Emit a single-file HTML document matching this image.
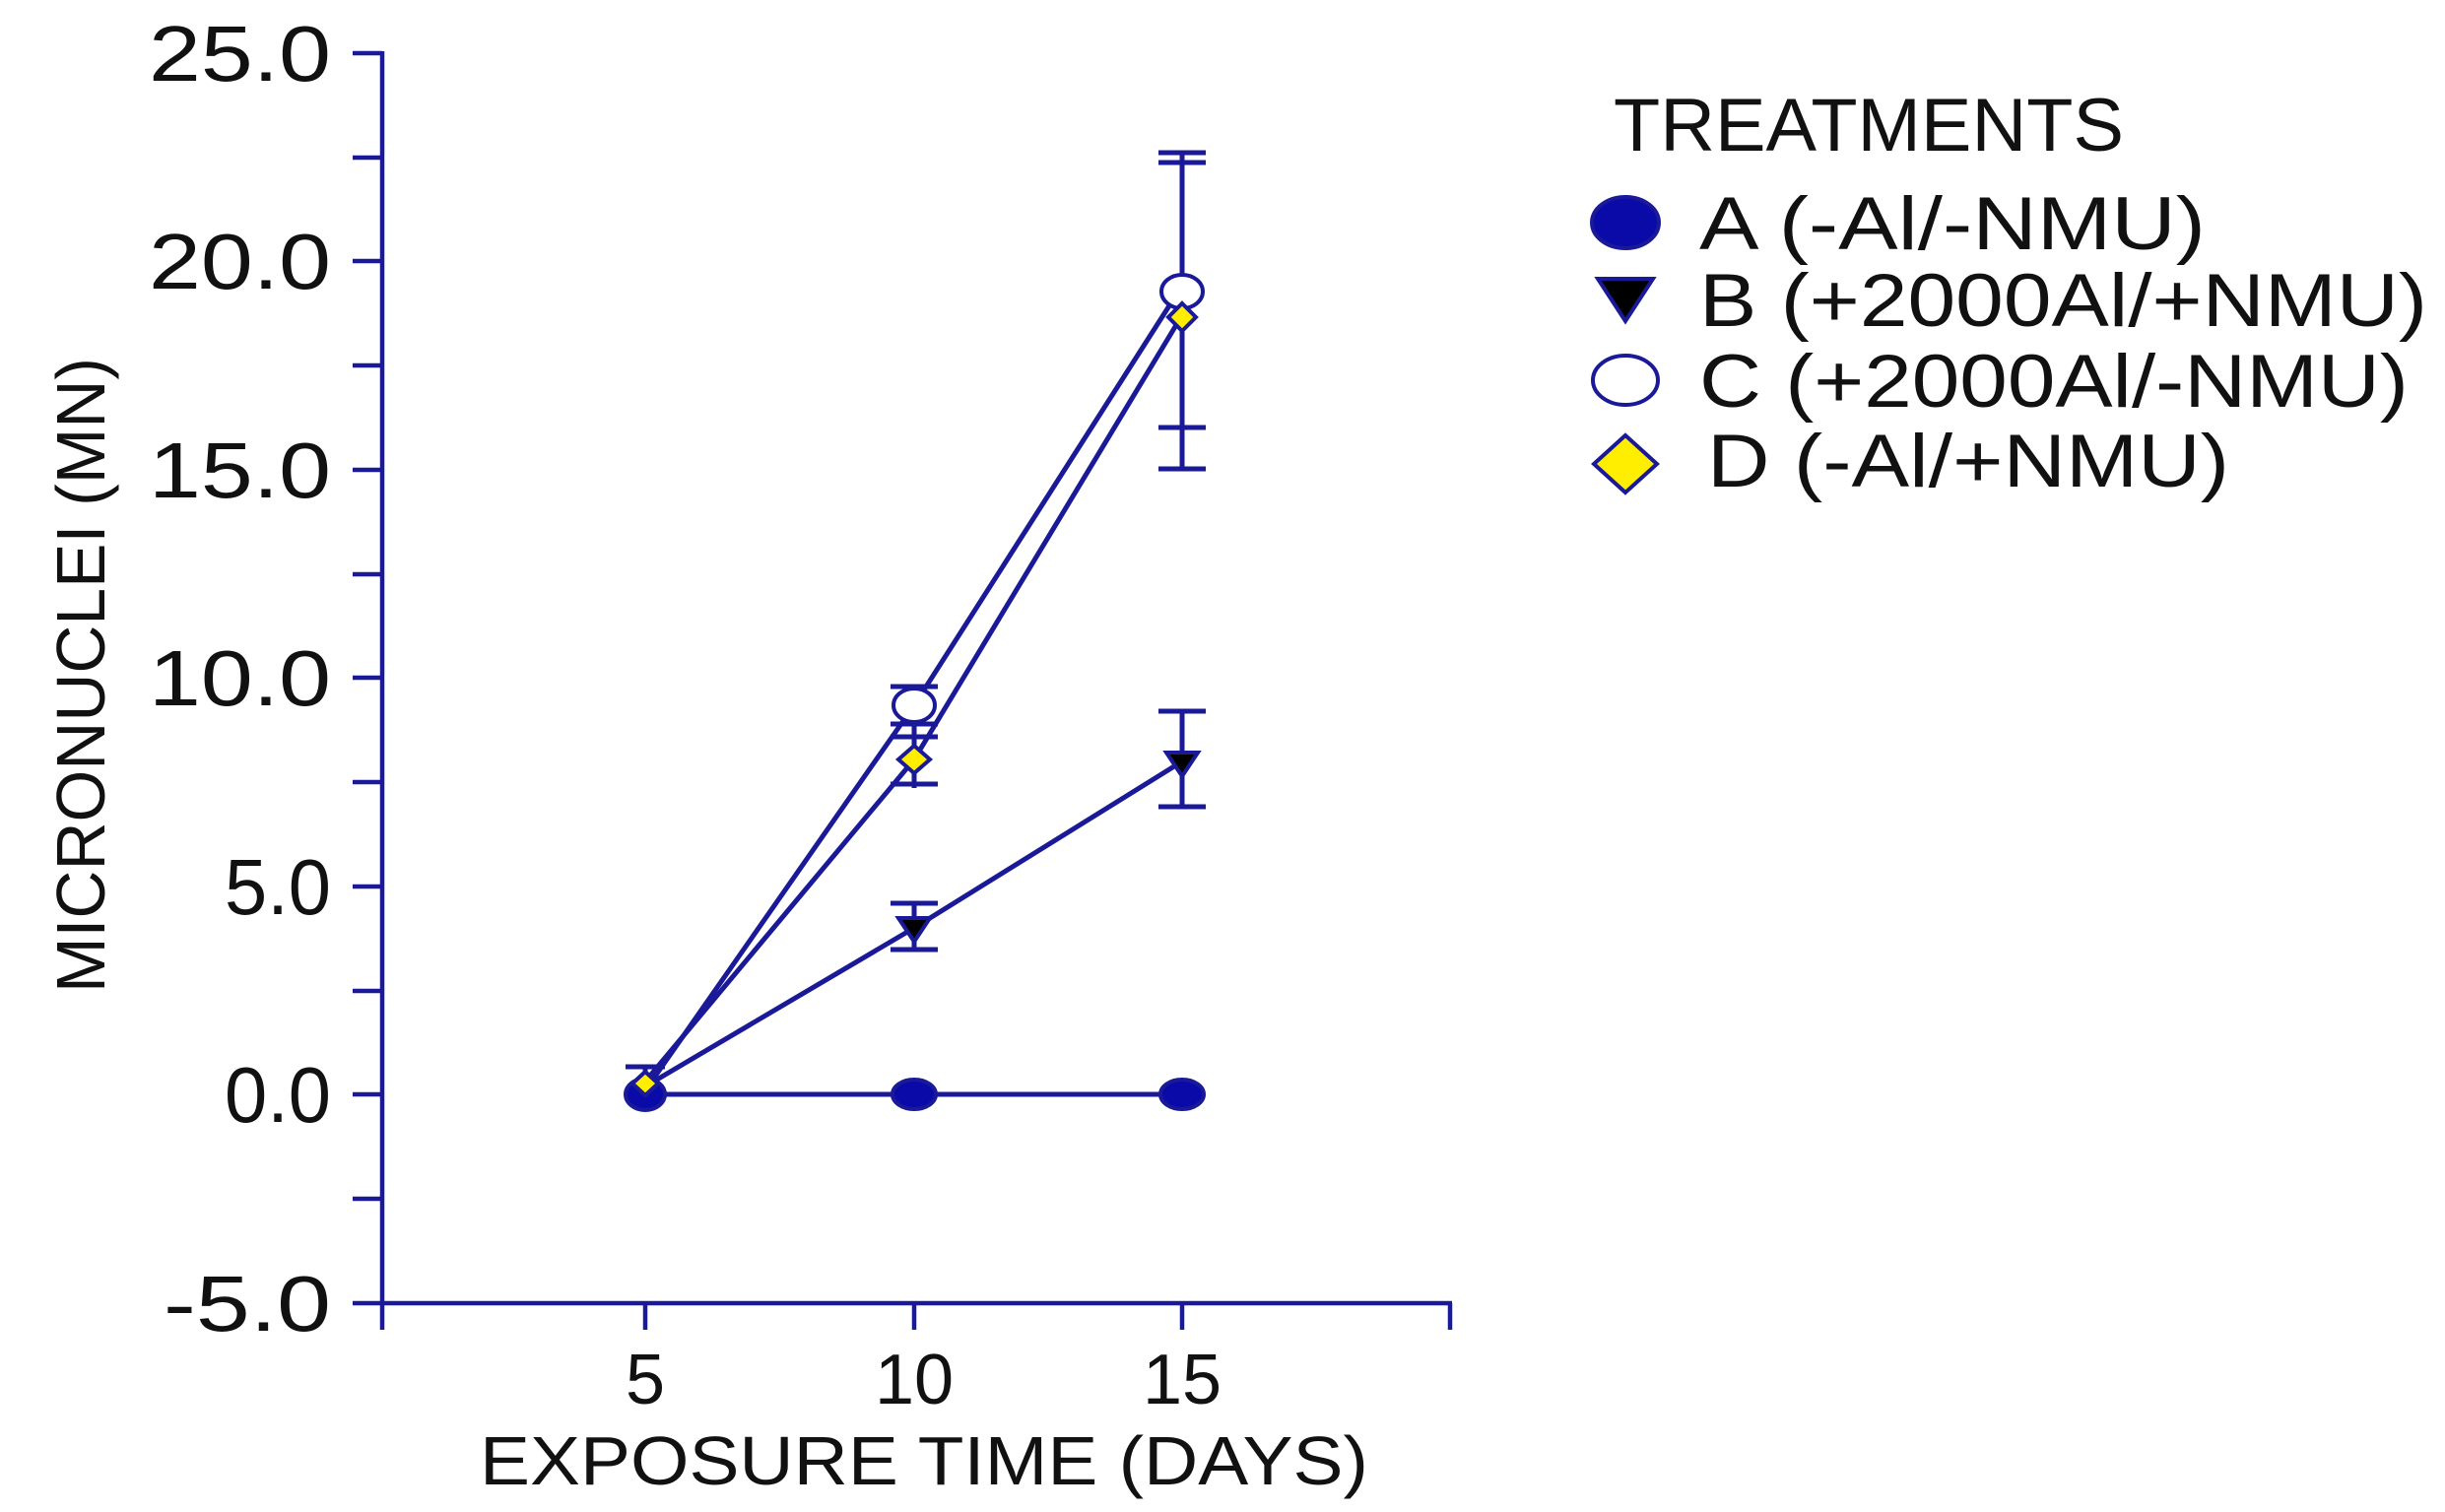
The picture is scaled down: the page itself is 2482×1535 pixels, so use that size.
<!DOCTYPE html>
<html><head><meta charset="utf-8"><style>
html,body{margin:0;padding:0;background:#fff;}
svg{display:block;}
text{font-family:"Liberation Sans",sans-serif;fill:#111;}
</style></head><body>
<svg width="2482" height="1535" viewBox="0 0 2482 1535" xmlns="http://www.w3.org/2000/svg">
<g stroke="#1a1a99" stroke-width="4.5" fill="none">
<line x1="388" y1="52" x2="388" y2="1325"/>
<line x1="386" y1="1323" x2="1474" y2="1323"/>
<line x1="358" y1="54" x2="388" y2="54"/>
<line x1="358" y1="160" x2="388" y2="160"/>
<line x1="358" y1="265" x2="388" y2="265"/>
<line x1="358" y1="371" x2="388" y2="371"/>
<line x1="358" y1="477" x2="388" y2="477"/>
<line x1="358" y1="583" x2="388" y2="583"/>
<line x1="358" y1="688" x2="388" y2="688"/>
<line x1="358" y1="794" x2="388" y2="794"/>
<line x1="358" y1="900" x2="388" y2="900"/>
<line x1="358" y1="1006" x2="388" y2="1006"/>
<line x1="358" y1="1111" x2="388" y2="1111"/>
<line x1="358" y1="1217" x2="388" y2="1217"/>
<line x1="358" y1="1323" x2="388" y2="1323"/>
<line x1="388" y1="1323" x2="388" y2="1350"/>
<line x1="655" y1="1323" x2="655" y2="1350"/>
<line x1="928" y1="1323" x2="928" y2="1350"/>
<line x1="1200" y1="1323" x2="1200" y2="1350"/>
<line x1="1472" y1="1323" x2="1472" y2="1350"/>
</g>
<g font-size="80" text-anchor="end">
<text x="336" y="82" textLength="185" lengthAdjust="spacingAndGlyphs">25.0</text>
<text x="336" y="293" textLength="185" lengthAdjust="spacingAndGlyphs">20.0</text>
<text x="336" y="505" textLength="185" lengthAdjust="spacingAndGlyphs">15.0</text>
<text x="336" y="716" textLength="185" lengthAdjust="spacingAndGlyphs">10.0</text>
<text x="336" y="928" textLength="108" lengthAdjust="spacingAndGlyphs">5.0</text>
<text x="336" y="1139" textLength="108" lengthAdjust="spacingAndGlyphs">0.0</text>
<text x="336" y="1351" textLength="170" lengthAdjust="spacingAndGlyphs">-5.0</text>
</g>
<g font-size="72" text-anchor="middle">
<text x="655" y="1425">5</text>
<text x="928" y="1425">10</text>
<text x="1200" y="1425">15</text>
</g>
<text x="487" y="1507" font-size="70" textLength="902" lengthAdjust="spacingAndGlyphs">EXPOSURE TIME (DAYS)</text>
<text transform="translate(106,1008) rotate(-90)" font-size="70" textLength="645" lengthAdjust="spacingAndGlyphs">MICRONUCLEI (MN)</text>
<g stroke="#1a1a99" stroke-width="5" fill="none">
<polyline points="655,1111 928,1111 1200,1111"/>
<polyline points="655,1103 928,942 1200,773"/>
<polyline points="655,1107 928,716 1200,290"/>
<polyline points="655,1098 928,771 1200,320"/>
<line x1="1200" y1="155" x2="1200" y2="476"/>
<line x1="1176" y1="155" x2="1224" y2="155"/><line x1="1176" y1="165" x2="1224" y2="165"/>
<line x1="1176" y1="434" x2="1224" y2="434"/><line x1="1176" y1="476" x2="1224" y2="476"/>
<line x1="1200" y1="722" x2="1200" y2="819"/>
<line x1="1176" y1="722" x2="1224" y2="722"/><line x1="1176" y1="819" x2="1224" y2="819"/>
<line x1="928" y1="697" x2="928" y2="800"/>
<line x1="904" y1="697" x2="952" y2="697"/><line x1="904" y1="735" x2="952" y2="735"/>
<line x1="904" y1="748" x2="952" y2="748"/><line x1="904" y1="796" x2="952" y2="796"/>
<line x1="928" y1="917" x2="928" y2="964"/>
<line x1="904" y1="917" x2="952" y2="917"/><line x1="904" y1="964" x2="952" y2="964"/>
<line x1="655" y1="1083" x2="655" y2="1100"/>
<line x1="635" y1="1083" x2="675" y2="1083"/>
</g>
<g stroke="#1a1a99" stroke-width="4">
<ellipse cx="655" cy="1111" rx="20" ry="16" fill="#0a0aa8"/>
<ellipse cx="928" cy="1111" rx="22" ry="15" fill="#0a0aa8"/>
<ellipse cx="1200" cy="1111" rx="22" ry="15" fill="#0a0aa8"/>
<ellipse cx="928" cy="716" rx="21" ry="17" fill="#fff"/>
<ellipse cx="1200" cy="296" rx="21" ry="17" fill="#fff"/>
<polygon points="912,932 944,932 928,956" fill="#000"/>
<polygon points="1184,764 1216,764 1200,788" fill="#000"/>
<polygon points="928,757 944,771 928,785 912,771" fill="#ffee00"/>
<polygon points="1200,308 1214,322 1200,336 1186,322" fill="#ffee00"/>
<polygon points="655,1088 668,1100 655,1112 642,1100" fill="#ffee00"/>
</g>
<text x="1638" y="153" font-size="76" textLength="518" lengthAdjust="spacingAndGlyphs">TREATMENTS</text>
<g stroke="#1a1a99" stroke-width="4">
<ellipse cx="1650" cy="226" rx="34" ry="26" fill="#0a0aa8"/>
<polygon points="1622,283 1678,283 1650,326" fill="#000"/>
<ellipse cx="1650" cy="386" rx="33" ry="25" fill="#fff"/>
<polygon points="1650,442 1682,471 1650,500 1618,471" fill="#ffee00"/>
</g>
<g font-size="76">
<text x="1725" y="253" textLength="514" lengthAdjust="spacingAndGlyphs">A (-Al/-NMU)</text>
<text x="1725" y="331" textLength="739" lengthAdjust="spacingAndGlyphs">B (+2000Al/+NMU)</text>
<text x="1725" y="413" textLength="720" lengthAdjust="spacingAndGlyphs">C (+2000Al/-NMU)</text>
<text x="1733" y="494" textLength="530" lengthAdjust="spacingAndGlyphs">D (-Al/+NMU)</text>
</g>
</svg>
</body></html>
